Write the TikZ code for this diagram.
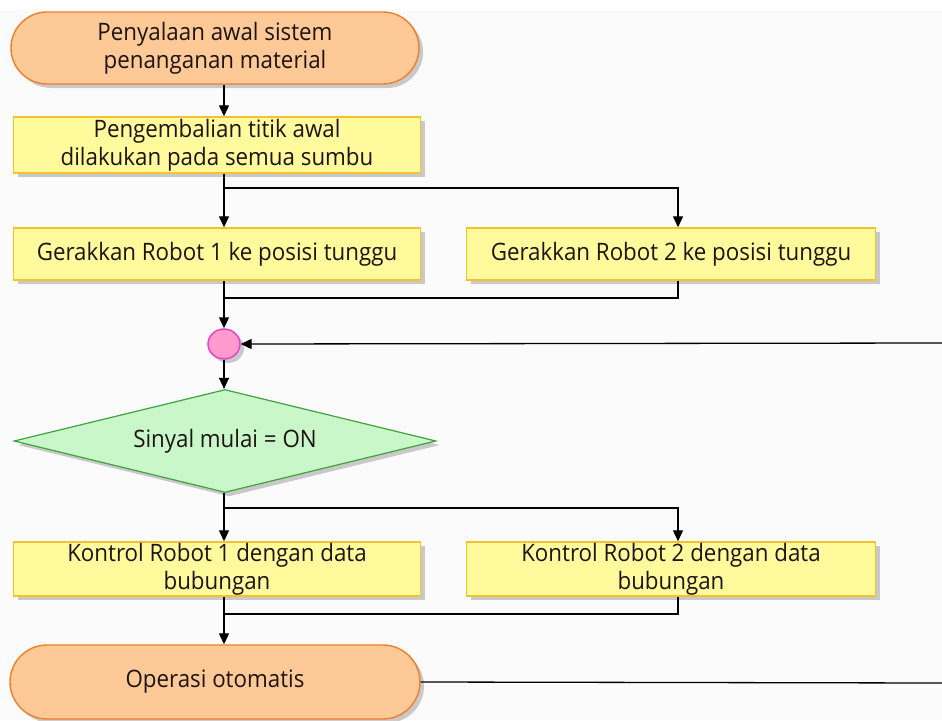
\documentclass[tikz,border=0pt]{standalone}
\usepackage{fontspec}
\setmainfont{Open Sans}[FakeStretch=0.93]
\usetikzlibrary{shapes.geometric,shapes.misc,shadows,arrows.meta}
\definecolor{termfill}{HTML}{FDC997}
\definecolor{termdraw}{HTML}{F07E2A}
\definecolor{boxfill}{HTML}{FFFA9C}
\definecolor{boxdraw}{HTML}{F2C32E}
\definecolor{decfill}{HTML}{C9F7C9}
\definecolor{decdraw}{HTML}{3FA23F}
\definecolor{mfill}{HTML}{FF9ACD}
\definecolor{mdraw}{HTML}{E53FC8}
\definecolor{bgc}{HTML}{FBFBFB}
\definecolor{txt}{HTML}{1E1414}
\begin{document}
\begin{tikzpicture}[x=1pt,y=-1pt,
  shd/.style={drop shadow={shadow xshift=4pt,shadow yshift=-4pt,fill=black!40}},
  lbl/.style={align=center,text=txt,font=\fontsize{24}{28}\selectfont},
  term/.style={rounded rectangle,draw=termdraw,fill=termfill,line width=1.4pt,minimum width=408pt,minimum height=72pt,inner sep=0pt,shd,lbl},
  procbox/.style={rectangle,draw=boxdraw,fill=boxfill,line width=1.4pt,minimum width=407pt,minimum height=54pt,inner sep=0pt,shd,lbl},
  decbox/.style={diamond,draw=decdraw,fill=decfill,line width=1.2pt,minimum width=422pt,minimum height=103pt,aspect=4,inner sep=0pt,shd,lbl},
  mergebox/.style={ellipse,draw=mdraw,fill=mfill,line width=1.4pt,minimum width=32pt,minimum height=30pt,inner sep=0pt,shd},
  conn/.style={draw=black,line width=1.3pt},
  arr/.style={conn,-{Triangle[width=10pt,length=11pt]}}
]
\useasboundingbox (0,0) rectangle (942,720);
\fill[white] (0,0) rectangle (942,720);
\fill[bgc] (0,10) rectangle (942,720);

\coordinate (cx) at (224,0);
\coordinate (cx2) at (678,0);

\node[term] (start) at (215,48) {Penyalaan awal sistem\\penanganan material};
\node[procbox,minimum height=56pt] (init) at (217,145) {Pengembalian titik awal\\dilakukan pada semua sumbu};
\node[procbox,minimum height=52pt] (r1) at (217,254) {Gerakkan Robot 1 ke posisi tunggu};
\node[procbox,minimum height=52pt,minimum width=409pt] (r2) at (671,254) {Gerakkan Robot 2 ke posisi tunggu};
\node[mergebox] (m) at (224,344) {};
\node[decbox] (dec) at (225,441) {Sinyal mulai = ON};
\node[procbox] (k1) at (217,569) {Kontrol Robot 1 dengan data\\bubungan};
\node[procbox,minimum width=409pt] (k2) at (671,569) {Kontrol Robot 2 dengan data\\bubungan};
\node[term,minimum width=410pt,minimum height=74pt] (fin) at (215,682) {Operasi otomatis};

\coordinate (b1) at (224,188);
\coordinate (j1) at (224,298);
\coordinate (b2) at (224,508);
\coordinate (j2) at (224,614);
\coordinate (loopin) at (942,343);
\coordinate (loopout) at (942,683);

\draw[arr] (start.south -| cx) -- (init.north -| cx);
\draw[conn] (init.south -| cx) -- (b1);
\draw[arr] (b1) -- (r1.north -| cx);
\draw[arr] (b1) -| (r2.north -| cx2);
\draw[conn] (r1.south -| cx) -- (j1);
\draw[conn] (r2.south -| cx2) |- (j1);
\draw[arr] (j1) -- (m.north);
\draw[arr] (loopin) -- (m.east);
\draw[arr] (m.south) -- (dec.north -| cx);
\draw[conn] (dec.south -| cx) -- (b2);
\draw[arr] (b2) -- (k1.north -| cx);
\draw[arr] (b2) -| (k2.north -| cx2);
\draw[conn] (k1.south -| cx) -- (j2);
\draw[conn] (k2.south -| cx2) |- (j2);
\draw[arr] (j2) -- (fin.north -| cx);
\draw[conn] (fin.east) -- (loopout);
\end{tikzpicture}
\end{document}
